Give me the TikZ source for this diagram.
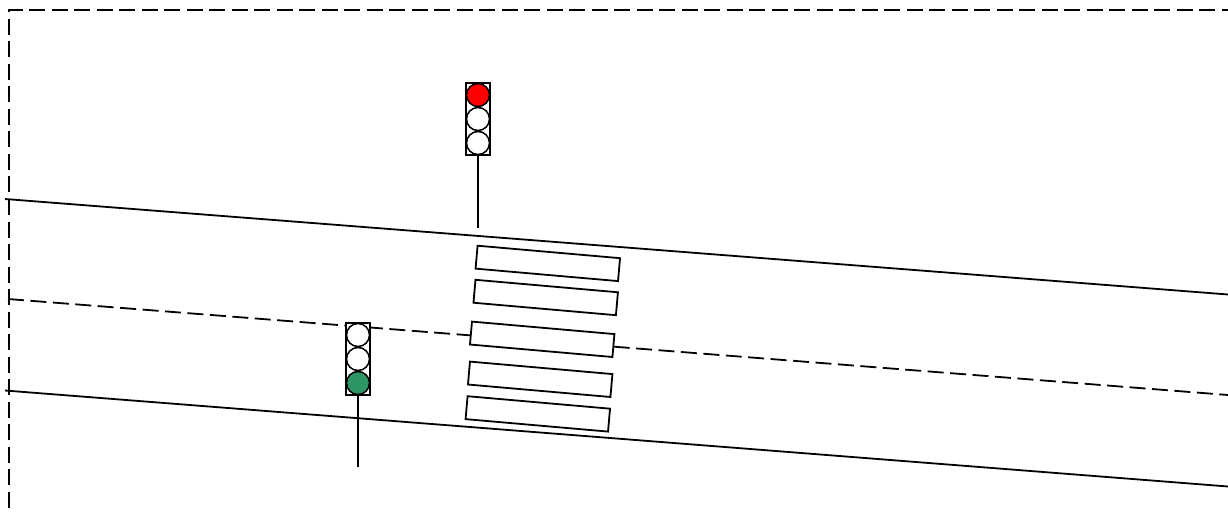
\documentclass[tikz,border=0pt]{standalone}
\begin{document}
\begin{tikzpicture}[x=1pt,y=-1pt,
  edge/.style={line width=1.8pt,black},
  dashline/.style={line width=1.8pt,black,dash pattern=on 16pt off 6.5pt},
  stripe/.style={draw,line width=1.8pt,fill=white,rectangle,minimum width=143pt,minimum height=23pt,inner sep=0pt,rotate=-5},
  housing/.style={draw,line width=1.5pt,fill=white,rectangle,minimum width=24pt,minimum height=72pt,inner sep=0pt},
  lamp/.style={draw,line width=1.5pt,circle,minimum size=23pt,inner sep=0pt},
  pole/.style={line width=1.8pt}]
\useasboundingbox (0,0) rectangle (1228,513);
\clip (0,0) rectangle (1228,513);
% frame
\draw[dashline] (9,530) -- (9,10) -- (1240,10);
% road
\draw[edge] (5,199) -- (1228,294.5);
\draw[dashline] (8,299) -- (1228,395);
\draw[edge] (5,390.5) -- (1228,486.5);
% crosswalk
\node[stripe] (s1) at (547.8,263.4) {};
\node[stripe] (s2) at (545.7,297.5) {};
\node[stripe] (s3) at (542.2,339.3) {};
\node[stripe] (s4) at (540.2,379.3) {};
\node[stripe] (s5) at (537.8,413.9) {};
% traffic light 1
\node[housing] (t1) at (478,119) {};
\node[lamp,fill=red] (t1a) at (478,95) {};
\node[lamp,fill=white] (t1b) at (478,119) {};
\node[lamp,fill=white] (t1c) at (478,143) {};
\coordinate (p1) at (478,228);
\draw[pole] (t1.south) -- (p1);
% traffic light 2
\node[housing] (t2) at (358,359) {};
\node[lamp,fill=white] (t2a) at (358,335) {};
\node[lamp,fill=white] (t2b) at (358,359) {};
\node[lamp,fill={rgb,255:red,46;green,150;blue,100}] (t2c) at (358,383) {};
\coordinate (p2) at (358,467);
\draw[pole] (t2.south) -- (p2);
\end{tikzpicture}
\end{document}
